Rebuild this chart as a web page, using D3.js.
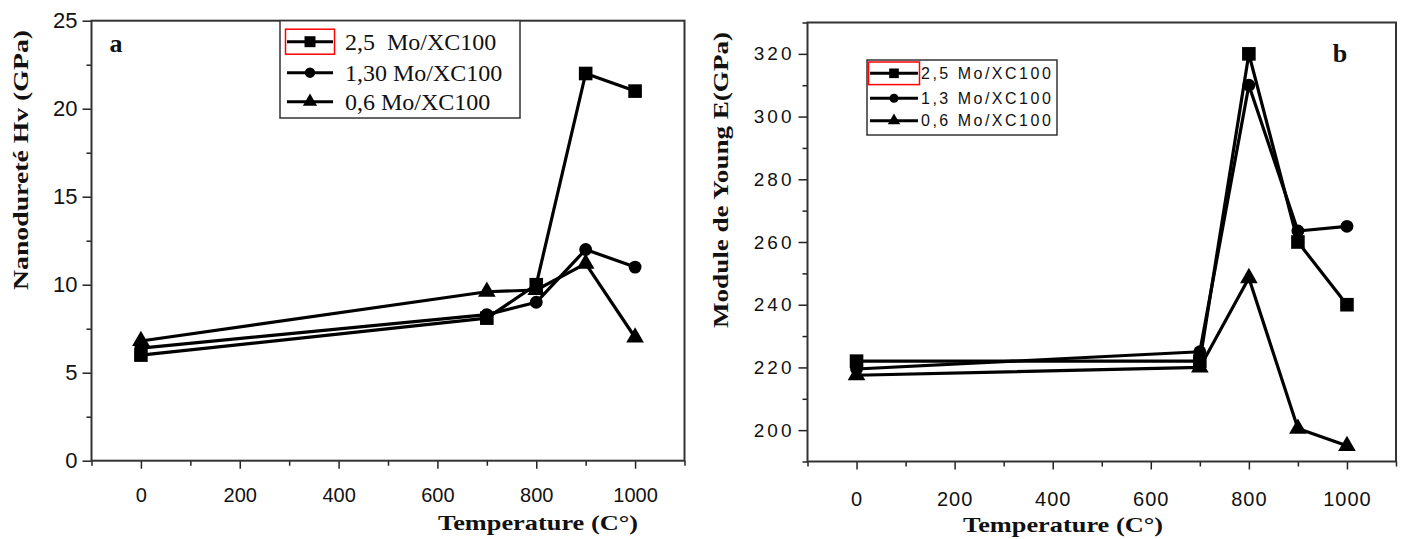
<!DOCTYPE html>
<html lang="fr">
<head>
    <meta charset="UTF-8">
    <script src="https://d3js.org/d3.v7.min.js"></script>
    <title>Nanodureté et module de Young</title>
    <style>
        body { margin: 0; background: white; }
        svg { display: block; }
        .tick text { font-family: "Liberation Sans", Arial, sans-serif; fill: #111; }
        .titre { font-family: "Liberation Serif", "Times New Roman", serif; font-weight: bold; fill: #111; }
        .courbe { fill: none; stroke: black; stroke-width: 3.2; stroke-linejoin: round; }
    </style>
</head>
<body>
<div id="chart"></div>
<script>
    // Données
    const temperatures = [0, 700, 800, 900, 1000];

    // (a) nanodureté Hv (GPa)
    const hv_25 = [6.0, 8.1, 10.0, 22.0, 21.0];
    const hv_130 = [6.4, 8.3, 9.0, 12.0, 11.0];
    const hv_06 = [6.8, 9.6, 9.7, 11.2, 7.0];
    const legendeA = ["2,5  Mo/XC100", "1,30 Mo/XC100", "0,6 Mo/XC100"];

    // (b) module de Young E (GPa)
    const e_25 = [222, 222, 320, 260, 240];
    const e_13 = [219.5, 225, 310, 263.5, 265];
    const e_06 = [217.5, 220, 248.5, 200.5, 195];
    const legendeB = ["2,5 Mo/XC100", "1,3 Mo/XC100", "0,6 Mo/XC100"];

    const ticksX = [0, 200, 400, 600, 800, 1000];
    const ticksXmin = [-100, 100, 300, 500, 700, 900, 1100];
    const ticksA = [0, 5, 10, 15, 20, 25];
    const ticksAmin = [2.5, 7.5, 12.5, 17.5, 22.5];
    const ticksB = [200, 220, 240, 260, 280, 300, 320];
    const ticksBmin = [190, 210, 230, 250, 270, 290, 310, 330];

    const symboles = [d3.symbolSquare, d3.symbolCircle, d3.symbolTriangle];
    const tailles = [185, 130, 135];

    const width = 1403, height = 539;
    const svg = d3.select("#chart").append("svg")
        .attr("width", width)
        .attr("height", height);

    function panneau(opts) {
        const x = d3.scaleLinear().domain([-100, 1100]).range(opts.xr);
        const y = d3.scaleLinear().domain(opts.yd).range(opts.yr);
        const g = svg.append("g");

        // axe x
        g.append("g")
            .attr("transform", `translate(0,${opts.yr[0]})`)
            .call(d3.axisBottom(x).tickValues(ticksX).tickSize(8).tickPadding(opts.xPad).tickFormat(d3.format("d")))
            .call(a => a.select(".domain").remove())
            .call(a => a.selectAll("text").style("font-size", opts.fsX).style("letter-spacing", opts.lsX));
        g.append("g")
            .attr("transform", `translate(0,${opts.yr[0]})`)
            .call(d3.axisBottom(x).tickValues(ticksXmin).tickSize(5).tickFormat(""))
            .call(a => a.select(".domain").remove());

        // axe y
        g.append("g")
            .attr("transform", `translate(${opts.xr[0]},0)`)
            .call(d3.axisLeft(y).tickValues(opts.ticks).tickSize(9).tickPadding(opts.yPad).tickFormat(d3.format("d")))
            .call(a => a.select(".domain").remove())
            .call(a => a.selectAll("text").style("font-size", opts.fsY).style("letter-spacing", opts.lsY));
        g.append("g")
            .attr("transform", `translate(${opts.xr[0]},0)`)
            .call(d3.axisLeft(y).tickValues(opts.ticksMin).tickSize(5).tickFormat(""))
            .call(a => a.select(".domain").remove());

        g.selectAll(".tick line").attr("stroke", "#222").attr("stroke-width", 1.5);

        // cadre
        g.append("rect")
            .attr("x", opts.xr[0]).attr("y", opts.yr[1])
            .attr("width", opts.xr[1] - opts.xr[0])
            .attr("height", opts.yr[0] - opts.yr[1])
            .attr("fill", "none").attr("stroke", "#333").attr("stroke-width", 2);

        // courbes et marqueurs
        const line = d3.line().x((d, i) => x(temperatures[i])).y(d => y(d));
        opts.series.forEach((s, k) => {
            g.append("path").datum(s).attr("class", "courbe").attr("d", line);
            g.selectAll(null).data(s).join("path")
                .attr("transform", (d, i) => `translate(${x(temperatures[i])},${y(d)})`)
                .attr("d", d3.symbol(symboles[k], tailles[k]));
        });

        // légende
        const lg = opts.leg;
        g.append("rect")
            .attr("x", lg.x0).attr("y", lg.y0)
            .attr("width", lg.x1 - lg.x0).attr("height", lg.y1 - lg.y0)
            .attr("fill", "white").attr("stroke", "#333").attr("stroke-width", 1.5);
        lg.rows.forEach((ry, k) => {
            g.append("line")
                .attr("x1", lg.sx0).attr("x2", lg.sx1).attr("y1", ry).attr("y2", ry)
                .attr("stroke", "black").attr("stroke-width", 3);
            g.append("path")
                .attr("transform", `translate(${(lg.sx0 + lg.sx1) / 2},${ry})`)
                .attr("d", d3.symbol(symboles[k], tailles[k] * lg.ms));
            g.append("text")
                .attr("x", lg.tx).attr("y", ry).attr("dy", "0.35em")
                .style("font-family", lg.font).style("font-size", lg.fs)
                .style("letter-spacing", lg.ls).style("white-space", "pre")
                .attr("fill", "#111")
                .text(opts.labels[k]);
        });
        // cadre rouge autour du premier symbole
        g.append("rect")
            .attr("x", lg.sx0 - 1.5).attr("y", lg.rows[0] - lg.rh)
            .attr("width", lg.sx1 - lg.sx0 + 3).attr("height", lg.rh * 2)
            .attr("fill", "none").attr("stroke", "red").attr("stroke-width", 1.5);

        // titres
        g.append("text").attr("class", "titre")
            .attr("x", opts.xt[0]).attr("y", opts.xt[1])
            .attr("text-anchor", "middle").style("font-size", "22px")
            .attr("textLength", 200).attr("lengthAdjust", "spacingAndGlyphs")
            .text("Temperature (C°)");
        g.append("text").attr("class", "titre")
            .attr("transform", `translate(${opts.yt[0]},${opts.yt[1]}) rotate(-90)`)
            .attr("text-anchor", "middle").style("font-size", opts.fsT)
            .attr("textLength", opts.yt[2]).attr("lengthAdjust", "spacingAndGlyphs")
            .text(opts.ytitle);
        g.append("text").attr("class", "titre")
            .attr("x", opts.lettre[0]).attr("y", opts.lettre[1])
            .attr("text-anchor", "middle").style("font-size", "26px")
            .text(opts.lettre[2]);
    }

    panneau({
        xr: [91.5, 684.5], yr: [460.7, 20.7], yd: [0, 25],
        ticks: ticksA, ticksMin: ticksAmin,
        series: [hv_25, hv_130, hv_06], labels: legendeA,
        fsX: "20px", lsX: "0px", xPad: 19, fsY: "22px", lsY: "0px", yPad: 5,
        leg: { x0: 280, x1: 520, y0: 20.7, y1: 118, rows: [41.7, 72.7, 101.7],
               sx0: 287, sx1: 333, tx: 345, font: "'Liberation Serif', serif", fs: "24px", ls: "0px", rh: 12.5, ms: 0.65 },
        xt: [538, 530], yt: [28, 160, 260], fsT: "21px",
        ytitle: "Nanodureté Hv (GPa)", lettre: [116, 52, "a"]
    });

    panneau({
        xr: [807.5, 1396], yr: [461.5, 22.5], yd: [190, 330],
        ticks: ticksB, ticksMin: ticksBmin,
        series: [e_25, e_13, e_06], labels: legendeB,
        fsX: "20px", lsX: "1px", xPad: 22, fsY: "19px", lsY: "3px", yPad: 4,
        leg: { x0: 867, x1: 1057, y0: 60, y1: 135, rows: [73.3, 98.3, 120.7],
               sx0: 870, sx1: 918, tx: 921, font: "'Liberation Sans', Arial, sans-serif", fs: "16px", ls: "2.5px", rh: 11.3, ms: 0.5 },
        xt: [1063, 532], yt: [728, 180, 296], fsT: "20px",
        ytitle: "Module de Young E(GPa)", lettre: [1340, 62, "b"]
    });
</script>
</body>
</html>
